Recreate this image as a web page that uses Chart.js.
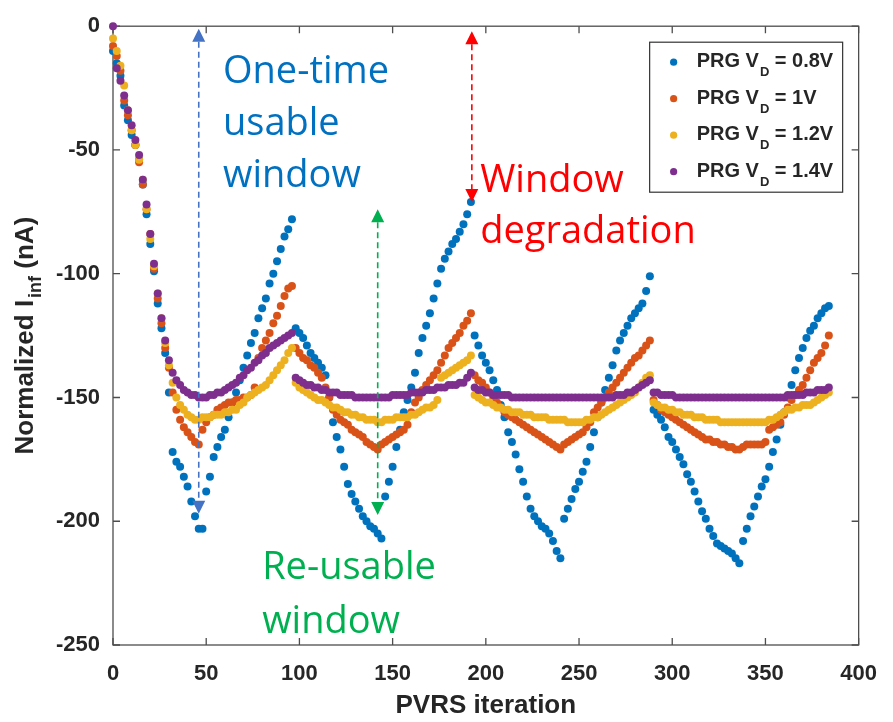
<!DOCTYPE html>
<html>
<head>
<meta charset="utf-8">
<script src="https://cdn.jsdelivr.net/npm/chart.js@4.4.1/dist/chart.umd.min.js"></script>
<style>
  html, body { margin: 0; padding: 0; background: #fff; }
</style>
</head>
<body>
<canvas id="grafico" width="893" height="722"></canvas>
<script>
// iteracao PVRS (uma amostra a cada 2 iteracoes)
const iteracao = [
  0, 2, 4, 6, 8, 10, 12, 14, 16, 18, 20, 22, 24, 26, 28, 30, 32, 34, 36, 38, 40, 42, 44, 46, 48,
  50, 52, 54, 56, 58, 60, 62, 64, 66, 68, 70, 72, 74, 76, 78, 80, 82, 84, 86, 88, 90, 92, 94, 96,
  98, 100, 102, 104, 106, 108, 110, 112, 114, 116, 118, 120, 122, 124, 126, 128, 130, 132, 134, 136,
  138, 140, 142, 144, 146, 148, 150, 152, 154, 156, 158, 160, 162, 164, 166, 168, 170, 172, 174, 176,
  178, 180, 182, 184, 186, 188, 190, 192,
  194, 196, 198, 200, 202, 204, 206, 208, 210, 212, 214, 216, 218, 220, 222, 224, 226, 228, 230, 232,
  234, 236, 238, 240, 242, 244, 246, 248, 250, 252, 254, 256, 258, 260, 262, 264, 266, 268, 270, 272,
  274, 276, 278, 280, 282, 284, 286, 288,
  290, 292, 294, 296, 298, 300, 302, 304, 306, 308, 310, 312, 314, 316, 318, 320, 322, 324, 326, 328,
  330, 332, 334, 336, 338, 340, 342, 344, 346, 348, 350, 352, 354, 356, 358, 360, 362, 364, 366, 368,
  370, 372, 374, 376, 378, 380, 382, 384
];

// Normalized I_inf (nA) por tensao de programacao
const vd08 = [
  -10, -15, -20, -32, -38, -44, -48, -54, -64, -76, -88, -99, -112, -122, -132, -148, -172, -176, -178, -182,
  -186, -192, -198, -203, -203, -188, -182, -174, -170, -166, -163, -158, -152, -148, -143, -138, -133, -128, -124, -118,
  -114, -110, -104, -100, -95, -90, -85, -82, -78,
  -122, -124, -126, -129, -132, -134, -136, -138, -141, -150, -160, -166, -171, -178, -185, -189, -192, -195, -198, -200,
  -202, -203, -205, -207, -190, -184, -178, -170, -163, -156, -151, -146, -140, -132, -126, -121, -116, -110, -104, -98,
  -94, -91, -88, -86, -83, -80, -76, -71,
  -125, -129, -133, -136, -139, -143, -147, -153, -158, -164, -168, -173, -179, -184, -190, -195, -198, -200, -202, -203,
  -205, -208, -212, -215, -199, -195, -191, -187, -184, -180, -176, -170, -164, -158, -152, -147, -142, -137, -131, -127,
  -124, -121, -118, -116, -114, -112, -107, -101,
  -155, -157, -159, -162, -166, -168, -171, -174, -177, -181, -184, -188, -192, -196, -199, -203, -206, -209, -210, -211,
  -212, -213, -215, -217, -208, -203, -198, -194, -190, -186, -183, -178, -172, -167, -161, -156, -150, -145, -139, -134,
  -130, -126, -123, -121, -118, -116, -114, -113
];
const vd10 = [
  -8, -12, -18, -30, -36, -42, -48, -55, -64, -74, -84, -98, -110, -120, -130, -138, -148, -155, -159, -162,
  -164, -166, -168, -169, -163, -160, -158, -157, -155, -154, -153, -152, -152, -151, -151, -150, -150, -149, -146, -134,
  -130, -127, -124, -120, -117, -113, -109, -106, -105,
  -130, -132, -134, -135, -137, -138, -140, -142, -146, -150, -155, -157, -159, -160, -161, -163, -164, -165, -166, -168,
  -169, -170, -171, -169, -168, -167, -166, -165, -164, -163, -161, -156, -152, -150, -147, -145, -143, -141, -139, -136,
  -133, -130, -128, -126, -124, -121, -119, -116,
  -141, -143, -144, -146, -148, -150, -152, -154, -156, -157, -158, -159, -160, -161, -162, -163, -164, -165, -166, -167,
  -168, -169, -170, -171, -169, -168, -167, -166, -165, -164, -162, -160, -156, -154, -152, -150, -148, -146, -144, -142,
  -140, -138, -136, -134, -133, -131, -129, -127,
  -151, -153, -155, -156, -157, -158, -159, -160, -161, -162, -163, -164, -165, -166, -167, -167, -168, -168, -169, -169,
  -170, -170, -171, -171, -170, -169, -169, -169, -169, -169, -168, -163, -162, -161, -160, -157, -154, -151, -149, -147,
  -145, -142, -139, -136, -134, -132, -129, -125
];
const vd12 = [
  -5, -10, -16, -24, -34, -42, -48, -54, -62, -74, -86, -97, -108, -118, -128, -137, -144, -150, -153, -155,
  -157, -158, -159, -159, -158, -158, -158, -157, -157, -157, -156, -156, -155, -155, -153, -152, -150, -149, -148, -147,
  -146, -145, -143, -141, -139, -137, -135, -132, -130,
  -144, -146, -147, -148, -149, -150, -151, -151, -152, -153, -154, -154, -155, -156, -156, -157, -157, -158, -158, -159,
  -159, -159, -160, -160, -159, -159, -159, -158, -158, -158, -158, -157, -157, -156, -155, -154, -154, -153, -151, -142,
  -141, -140, -139, -138, -137, -136, -135, -133,
  -149, -150, -151, -152, -152, -153, -154, -154, -155, -155, -156, -156, -156, -157, -157, -157, -158, -158, -158, -158,
  -159, -159, -159, -159, -159, -160, -160, -160, -160, -160, -159, -159, -158, -158, -157, -156, -155, -154, -153, -152,
  -151, -150, -149, -148, -146, -144, -142, -141,
  -152, -153, -154, -154, -155, -155, -156, -156, -157, -157, -157, -158, -158, -158, -159, -159, -159, -159, -160, -160,
  -160, -160, -160, -160, -160, -160, -160, -160, -160, -160, -160, -159, -159, -158, -157, -156, -155, -155, -154, -154,
  -153, -153, -153, -152, -151, -150, -149, -148
];
const vd14 = [
  0, -17, -22, -28, -34, -40, -46, -52, -62, -72, -84, -96, -108, -118, -127, -135, -140, -143, -145, -147,
  -148, -149, -149, -150, -150, -150, -149, -149, -148, -148, -147, -146, -145, -144, -142, -141, -139, -138, -136, -135,
  -133, -132, -130, -129, -128, -127, -126, -125, -124,
  -142, -143, -144, -145, -145, -146, -146, -147, -147, -148, -148, -148, -149, -149, -149, -149, -150, -150, -150, -150,
  -150, -150, -150, -150, -150, -150, -149, -149, -149, -149, -149, -148, -148, -148, -148, -147, -147, -147, -146, -146,
  -146, -145, -145, -145, -144, -144, -142, -140,
  -146, -147, -147, -148, -148, -149, -149, -149, -149, -149, -150, -150, -150, -150, -150, -150, -150, -150, -150, -150,
  -150, -150, -150, -150, -150, -150, -150, -150, -150, -150, -150, -150, -150, -150, -150, -150, -150, -150, -149, -149,
  -149, -148, -148, -147, -146, -145, -144, -143,
  -148, -148, -149, -149, -149, -149, -150, -150, -150, -150, -150, -150, -150, -150, -150, -150, -150, -150, -150, -150,
  -150, -150, -150, -150, -150, -150, -150, -150, -150, -150, -150, -150, -150, -150, -150, -150, -149, -149, -149, -149,
  -149, -148, -148, -148, -147, -147, -147, -146
];

const rotulos = ['0.8V', '1V', '1.2V', '1.4V'];
const cores = ['#0072BD', '#D95319', '#EDB120', '#7E2F8E'];
const xTicks = [0, 50, 100, 150, 200, 250, 300, 350, 400];
const yTicks = [-250, -200, -150, -100, -50, 0];

// setas e textos das anotacoes (em unidades dos eixos)
const setas = [
  { x: 46, y1: -1, y2: -197, cor: '#4472C4' },
  { x: 142, y1: -74, y2: -197.5, cor: '#00B050' },
  { x: 192.5, y1: -2, y2: -71, cor: '#FF0000' }
];
const textos = [
  { x: 59, ys: [-23, -44, -65], linhas: ['One-time', 'usable', 'window'], cor: '#0070C0' },
  { x: 197, ys: [-67, -87.5], linhas: ['Window', 'degradation'], cor: '#FF0000' },
  { x: 80, ys: [-223.5, -245], linhas: ['Re-usable', 'window'], cor: '#00B050' }
];

const fonte = "'Liberation Sans', Arial, sans-serif";
const corTexto = '#262626';

const desenhos = {
  id: 'desenhos',
  beforeDatasetsDraw(chart) {
    const { ctx, chartArea: a, scales: { x, y } } = chart;
    ctx.save();
    ctx.strokeStyle = '#4d4d4d';
    ctx.lineWidth = 1.3;
    ctx.strokeRect(a.left, a.top, a.right - a.left, a.bottom - a.top);
    ctx.beginPath();
    xTicks.forEach(v => {
      const px = x.getPixelForValue(v);
      ctx.moveTo(px, a.bottom); ctx.lineTo(px, a.bottom - 7);
      ctx.moveTo(px, a.top); ctx.lineTo(px, a.top + 7);
    });
    yTicks.forEach(v => {
      const py = y.getPixelForValue(v);
      ctx.moveTo(a.left, py); ctx.lineTo(a.left + 7, py);
      ctx.moveTo(a.right, py); ctx.lineTo(a.right - 7, py);
    });
    ctx.stroke();
    ctx.restore();
  },
  afterDatasetsDraw(chart) {
    const { ctx, chartArea: a, scales: { x, y } } = chart;
    ctx.save();

    // setas tracejadas com duas pontas
    setas.forEach(s => {
      const px = x.getPixelForValue(s.x);
      const t = y.getPixelForValue(s.y1);
      const b = y.getPixelForValue(s.y2);
      const h = 13, w = 6.5;
      ctx.strokeStyle = s.cor;
      ctx.fillStyle = s.cor;
      ctx.lineWidth = 1.6;
      ctx.setLineDash([6, 4]);
      ctx.beginPath();
      ctx.moveTo(px, t + h); ctx.lineTo(px, b - h);
      ctx.stroke();
      ctx.setLineDash([]);
      ctx.beginPath();
      ctx.moveTo(px, t); ctx.lineTo(px - w, t + h); ctx.lineTo(px + w, t + h); ctx.closePath();
      ctx.moveTo(px, b); ctx.lineTo(px - w, b - h); ctx.lineTo(px + w, b - h); ctx.closePath();
      ctx.fill();
    });

    // textos
    ctx.font = "38px 'Open Sans', sans-serif";
    ctx.textAlign = 'left';
    ctx.textBaseline = 'alphabetic';
    textos.forEach(t => {
      ctx.fillStyle = t.cor;
      t.linhas.forEach((l, i) => {
        ctx.fillText(l, x.getPixelForValue(t.x), y.getPixelForValue(t.ys[i]));
      });
    });

    // legenda
    const lx = a.right - 16 - 193, ly = a.top + 16;
    ctx.fillStyle = '#fff';
    ctx.fillRect(lx, ly, 193, 150);
    ctx.strokeStyle = '#333';
    ctx.lineWidth = 1.2;
    ctx.strokeRect(lx, ly, 193, 150);
    rotulos.forEach((r, i) => {
      const base = ly + 25 + i * 36.5;
      ctx.fillStyle = cores[i];
      ctx.beginPath();
      ctx.arc(lx + 24, base - 5, 3.6, 0, Math.PI * 2);
      ctx.fill();
      ctx.fillStyle = corTexto;
      let tx = lx + 47;
      ctx.font = 'bold 20px ' + fonte;
      ctx.fillText('PRG V', tx, base);
      tx += ctx.measureText('PRG V').width + 1;
      ctx.font = 'bold 13px ' + fonte;
      ctx.fillText('D', tx, base + 9);
      tx += ctx.measureText('D').width;
      ctx.font = 'bold 20px ' + fonte;
      ctx.fillText(' = ' + r, tx, base);
    });

    // titulo do eixo x
    ctx.fillStyle = corTexto;
    ctx.font = 'bold 26px ' + fonte;
    ctx.textAlign = 'center';
    ctx.fillText('PVRS iteration', (a.left + a.right) / 2, 713);

    // titulo do eixo y com subscrito
    ctx.save();
    ctx.translate(33, (a.top + a.bottom) / 2);
    ctx.rotate(-Math.PI / 2);
    ctx.textAlign = 'left';
    const p1 = 'Normalized I', p2 = 'inf', p3 = ' (nA)';
    ctx.font = 'bold 26px ' + fonte;
    const w1 = ctx.measureText(p1).width, w3 = ctx.measureText(p3).width;
    ctx.font = 'bold 18px ' + fonte;
    const w2 = ctx.measureText(p2).width;
    let sx = -(w1 + w2 + w3 + 2) / 2;
    ctx.font = 'bold 26px ' + fonte;
    ctx.fillText(p1, sx, 0);
    sx += w1 + 2;
    ctx.font = 'bold 18px ' + fonte;
    ctx.fillText(p2, sx, 8);
    sx += w2;
    ctx.font = 'bold 26px ' + fonte;
    ctx.fillText(p3, sx, 0);
    ctx.restore();

    ctx.restore();
  }
};

const series = [vd08, vd10, vd12, vd14];

new Chart(document.getElementById('grafico'), {
  type: 'scatter',
  data: {
    datasets: series.map((s, i) => ({
      label: 'PRG VD = ' + rotulos[i],
      data: s.map((v, k) => ({ x: iteracao[k], y: v })),
      backgroundColor: cores[i],
      pointRadius: 4,
      pointBorderWidth: 0,
      pointHoverRadius: 0,
      order: series.length - 1 - i,
      clip: false
    }))
  },
  options: {
    responsive: false,
    animation: false,
    devicePixelRatio: 1,
    events: [],
    layout: { padding: { top: 17, right: 21, left: 0, bottom: 0 } },
    plugins: {
      legend: { display: false },
      tooltip: { enabled: false }
    },
    scales: {
      x: {
        type: 'linear',
        min: 0,
        max: 400,
        afterBuildTicks: s => { s.ticks = xTicks.map(v => ({ value: v })); },
        afterFit: s => { s.height = 77; },
        grid: { display: false, drawTicks: false },
        border: { display: false },
        ticks: { font: { family: fonte, size: 22, weight: 'bold' }, color: corTexto, padding: 16, maxRotation: 0 }
      },
      y: {
        min: -250,
        max: 0,
        afterBuildTicks: s => { s.ticks = yTicks.map(v => ({ value: v })); },
        afterFit: s => { s.width = 113; },
        grid: { display: false, drawTicks: false },
        border: { display: false },
        ticks: { font: { family: fonte, size: 22, weight: 'bold' }, color: corTexto, padding: 13 }
      }
    }
  },
  plugins: [desenhos]
});
</script>
</body>
</html>
